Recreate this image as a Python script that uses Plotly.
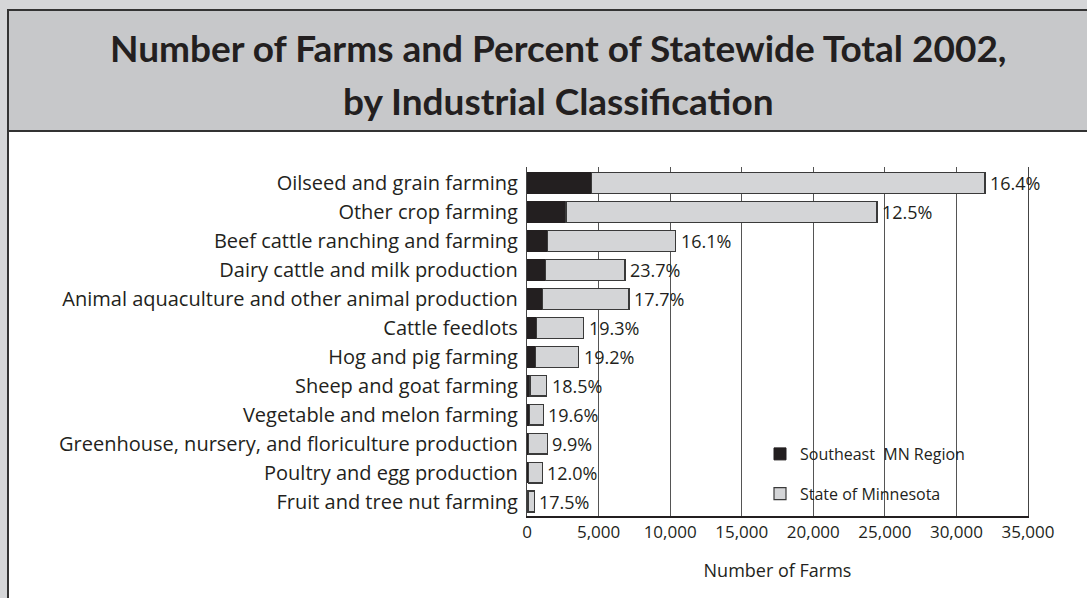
import plotly.graph_objects as go

categories = [
    "Oilseed and grain farming",
    "Other crop farming",
    "Beef cattle ranching and farming",
    "Dairy cattle and milk production",
    "Animal aquaculture and other animal production",
    "Cattle feedlots",
    "Hog and pig farming",
    "Sheep and goat farming",
    "Vegetable and melon farming",
    "Greenhouse, nursery, and floriculture production",
    "Poultry and egg production",
    "Fruit and tree nut farming",
]
southeast_mn = [4510, 2720, 1440, 1310, 1070, 640, 580, 215, 187, 128, 115, 76]
state_mn = [27490, 21730, 8940, 5540, 6050, 3310, 3020, 1160, 955, 1295, 955, 435]
pct_labels = ["16.4%", "12.5%", "16.1%", "23.7%", "17.7%", "19.3%", "19.2%",
              "18.5%", "19.6%", "9.9%", "12.0%", "17.5%"]
x_ticks = [0, 5000, 10000, 15000, 20000, 25000, 30000, 35000]
title_lines = ["Number of Farms and Percent of Statewide Total 2002,",
               "by Industrial Classification"]

FONT = "Open Sans, Noto Sans, sans-serif"
TITLE_FONT = "Lato, Roboto, sans-serif"
INK = "#231f20"
PAGE = "#d5d6d8"

fig = go.Figure()
fig.add_trace(go.Bar(
    y=categories, x=southeast_mn, orientation="h", name="Southeast  MN Region",
    marker=dict(color=INK, line=dict(color=INK, width=1)), width=0.72,
    legendgroup="a",
))
fig.add_trace(go.Bar(
    y=categories, x=state_mn, orientation="h", name="State of Minnesota",
    marker=dict(color="#d4d5d7", line=dict(color="#3a3a3a", width=1.2)), width=0.72,
    legendgroup="b",
))

for cat, a, b, lab in zip(categories, southeast_mn, state_mn, pct_labels):
    fig.add_annotation(x=a + b, y=cat, text=lab, showarrow=False, xanchor="left",
                       xshift=3, font=dict(family=FONT, size=18, color=INK))

# page panel and title band (paper coords relative to plot domain)
L, R, T, B = 527, 1028, 167, 516
def px(xp):
    return (xp - L) / (R - L)
def py(yp):
    return (B - yp) / (B - T)

fig.add_shape(type="rect", xref="paper", yref="paper", x0=px(8), x1=px(1120),
              y0=py(640), y1=py(10), fillcolor="white",
              line=dict(color="#333333", width=2), layer="below")
fig.add_shape(type="rect", xref="paper", yref="paper", x0=px(8), x1=px(1120),
              y0=py(131), y1=py(10), fillcolor="#c7c8ca",
              line=dict(color="#333333", width=2), layer="below")

for line, ymid in zip(title_lines, [47, 101]):
    fig.add_annotation(text="<b>" + line + "</b>", xref="paper", yref="paper",
                       x=px(558), y=py(ymid), xanchor="center", yanchor="middle",
                       showarrow=False,
                       font=dict(family=TITLE_FONT, size=37, color=INK, weight=900))

fig.update_layout(
    width=1087, height=598,
    margin=dict(l=L, r=1087 - R, t=T, b=598 - B),
    paper_bgcolor=PAGE,
    plot_bgcolor="rgba(0,0,0,0)",
    barmode="stack",
    showlegend=True,
    legend=dict(x=px(760), y=py(437), xanchor="left", yanchor="top",
                bgcolor="rgba(0,0,0,0)", traceorder="grouped", tracegroupgap=16,
                font=dict(family=FONT, size=16, color=INK)),
    font=dict(family=FONT, color=INK),
)
fig.update_xaxes(range=[0, 35000], tickvals=x_ticks, tickformat=",d",
                 showgrid=True, gridcolor="#555555", gridwidth=1,
                 showline=True, linecolor=INK, linewidth=1.5, zeroline=False,
                 ticks="", tickfont=dict(family=FONT, size=17, color=INK),
                 title=dict(text="Number of Farms", font=dict(family=FONT, size=18, color=INK),
                            standoff=22))
fig.update_yaxes(categoryorder="array", categoryarray=categories,
                 range=[11.5, -0.55], showgrid=False, showline=True, mirror=True,
                 linecolor="#444444", linewidth=1.2, ticks="", ticklabelstandoff=4,
                 tickfont=dict(family=FONT, size=20, color=INK))

fig.write_html("out.html", config={"displayModeBar": False},
               post_script="document.body.style.margin='0';document.body.style.background='%s';" % PAGE)
